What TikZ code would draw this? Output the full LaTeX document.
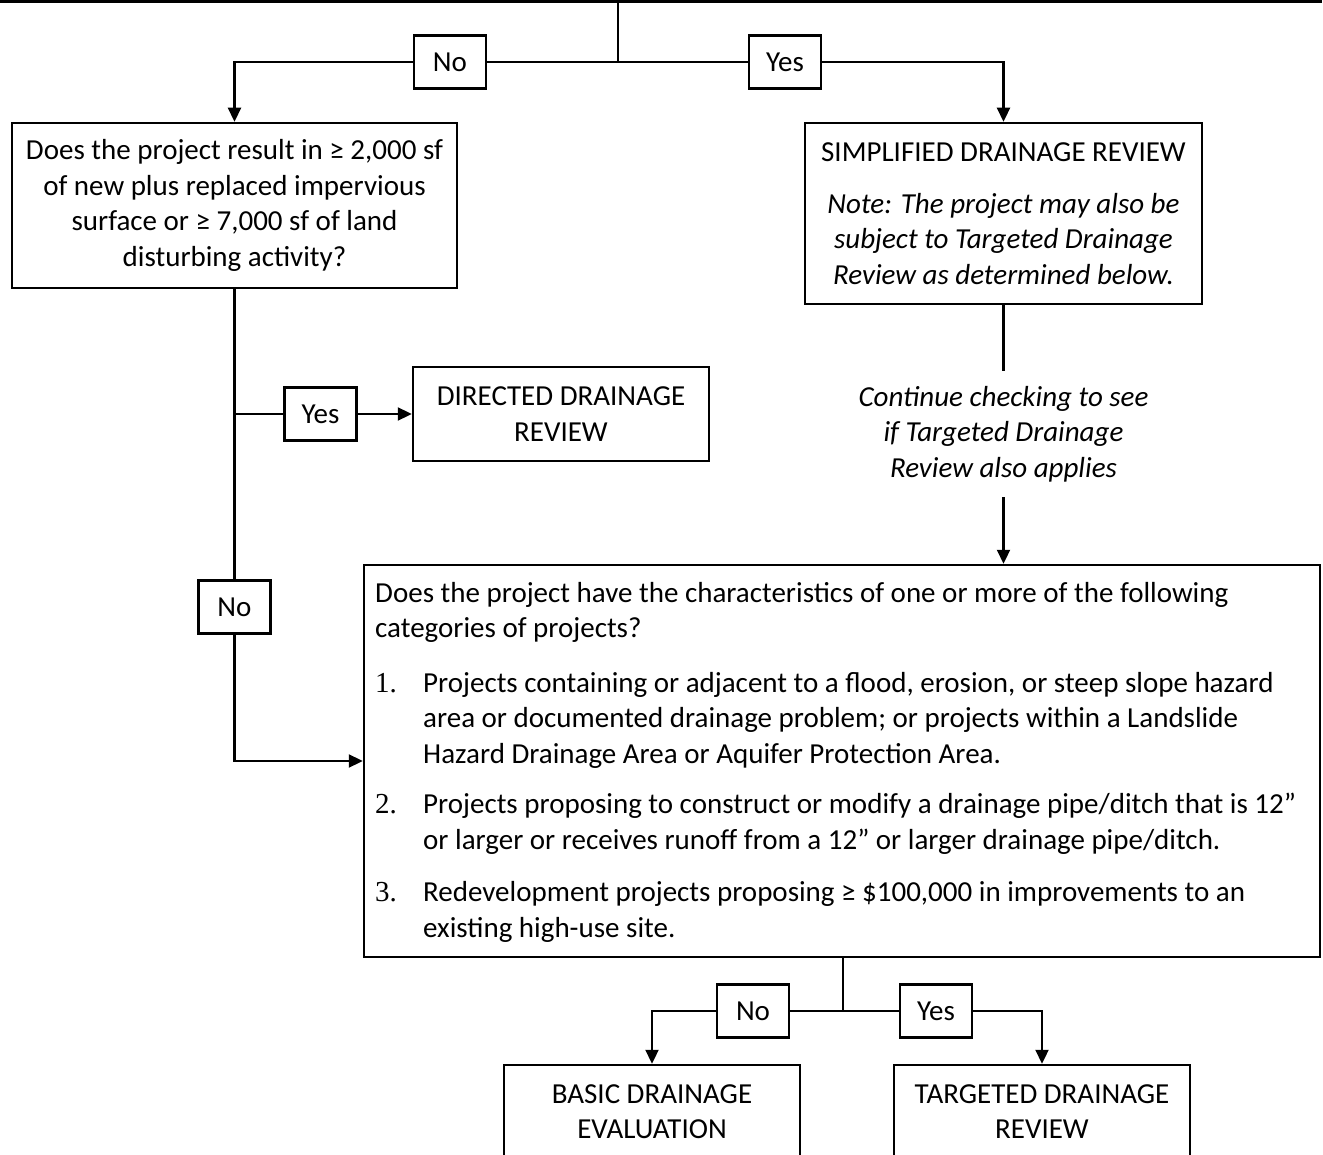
\documentclass[tikz,border=0pt]{standalone}
\usepackage{fontspec}
\setmainfont{Carlito}
\newfontfamily\numfont{Liberation Serif}
\usetikzlibrary{arrows.meta}
\tikzset{every node/.style={align=center,
           font=\fontsize{29}{35.5}\selectfont},
         box/.style={ % Sets the properties for each question/result box
           draw, line width=2.5pt, inner sep=0pt},
         answer/.style={ % Small No/Yes boxes sitting on the connectors
           draw, line width=2.5pt, inner sep=0pt, fill=white,
           minimum width=72pt, minimum height=53pt},
         flow/.style={line width=2.3pt},
         >={Triangle[length=14pt,width=13pt]}}

\begin{document}
\begin{tikzpicture}[x=1pt, y=-1pt]
  \useasboundingbox (0,0) rectangle (1323,1155);

  % box above (only its lower edge shows)
  \node [box, anchor=south west, minimum width=1329pt, minimum height=80pt] (top) at (-10,3) {};

  % first questions
  \node [box, minimum width=445pt, minimum height=165pt] (q1) at (234.5,205.5) {
    Does the project result in ≥ 2,000 sf\\
    of new plus replaced impervious\\
    surface or ≥ 7,000 sf of land\\
    disturbing activity?
  };
  \node [box, minimum width=397pt, minimum height=181pt] (simp) at (1003.5,213.5) {
    SIMPLIFIED DRAINAGE REVIEW\\[16pt]
    \textit{Note: The project may also be}\\
    \textit{subject to Targeted Drainage}\\
    \textit{Review as determined below.}
  };
  \node [box, minimum width=296pt, minimum height=94pt] (dir) at (561,414) {
    DIRECTED DRAINAGE\\
    REVIEW
  };
  \node [inner sep=15pt] (cont) at (1003.5,434) {
    \textit{Continue checking to see}\\
    \textit{if Targeted Drainage}\\
    \textit{Review also applies}
  };

  % second question
  \node [box, minimum width=956pt, minimum height=392pt] (q2) at (842,761) {};
  \node [anchor=north west, inner sep=0pt] (q2text) at (375,577) {%
    \begin{tabular}[t]{@{}p{48pt}@{}l@{}}
      \multicolumn{2}{@{}l@{}}{Does the project have the characteristics of one or more of the following}\\
      \multicolumn{2}{@{}l@{}}{categories of projects?}\\[19pt]
      \numfont 1. & Projects containing or adjacent to a flood, erosion, or steep slope hazard\\
                  & area or documented drainage problem; or projects within a Landslide\\
                  & Hazard Drainage Area or Aquifer Protection Area.\\[15pt]
      \numfont 2. & Projects proposing to construct or modify a drainage pipe/ditch that is 12”\\
                  & or larger or receives runoff from a 12” or larger drainage pipe/ditch.\\[17pt]
      \numfont 3. & Redevelopment projects proposing ≥ \$100,000 in improvements to an\\
                  & existing high-use site.
    \end{tabular}};

  % results at the bottom
  \node [box, minimum width=296pt, minimum height=93pt] (basic) at (652,1111.5) {
    BASIC DRAINAGE\\
    EVALUATION
  };
  \node [box, minimum width=296pt, minimum height=93pt] (targ) at (1042,1111.5) {
    TARGETED DRAINAGE\\
    REVIEW
  };

  % answer boxes
  \node [answer] (no1)  at (450,62)    {No};
  \node [answer] (yes1) at (785,62)    {Yes};
  \node [answer] (yes2) at (320.5,414) {Yes};
  \node [answer] (no2)  at (234.5,607) {No};
  \node [answer] (no3)  at (753,1011)  {No};
  \node [answer] (yes3) at (936,1011)  {Yes};

  \coordinate (split1) at (618,62);
  \coordinate (split2) at (843,1011);

  % top split
  \draw [flow] (top.south -| split1) -- (split1);
  \draw [flow] (split1) -- (no1);
  \draw [flow, ->] (no1) -| (q1.north);
  \draw [flow] (split1) -- (yes1);
  \draw [flow, ->] (yes1) -| (simp.north);

  % left column
  \draw [flow] (q1.south) -- (no2);
  \draw [flow, ->] (no2) |- (q2.west);
  \draw [flow] (q1.south |- yes2) -- (yes2);
  \draw [flow, ->] (yes2) -- (dir);

  % right column
  \draw [flow] (simp.south) -- (cont.north);
  \draw [flow, ->] (cont.south) -- (cont.south |- q2.north);

  % bottom split
  \draw [flow] (q2.south -| split2) -- (split2);
  \draw [flow] (split2) -- (no3);
  \draw [flow, ->] (no3) -| (basic.north);
  \draw [flow] (split2) -- (yes3);
  \draw [flow, ->] (yes3) -| (targ.north);

\end{tikzpicture}
\end{document}
